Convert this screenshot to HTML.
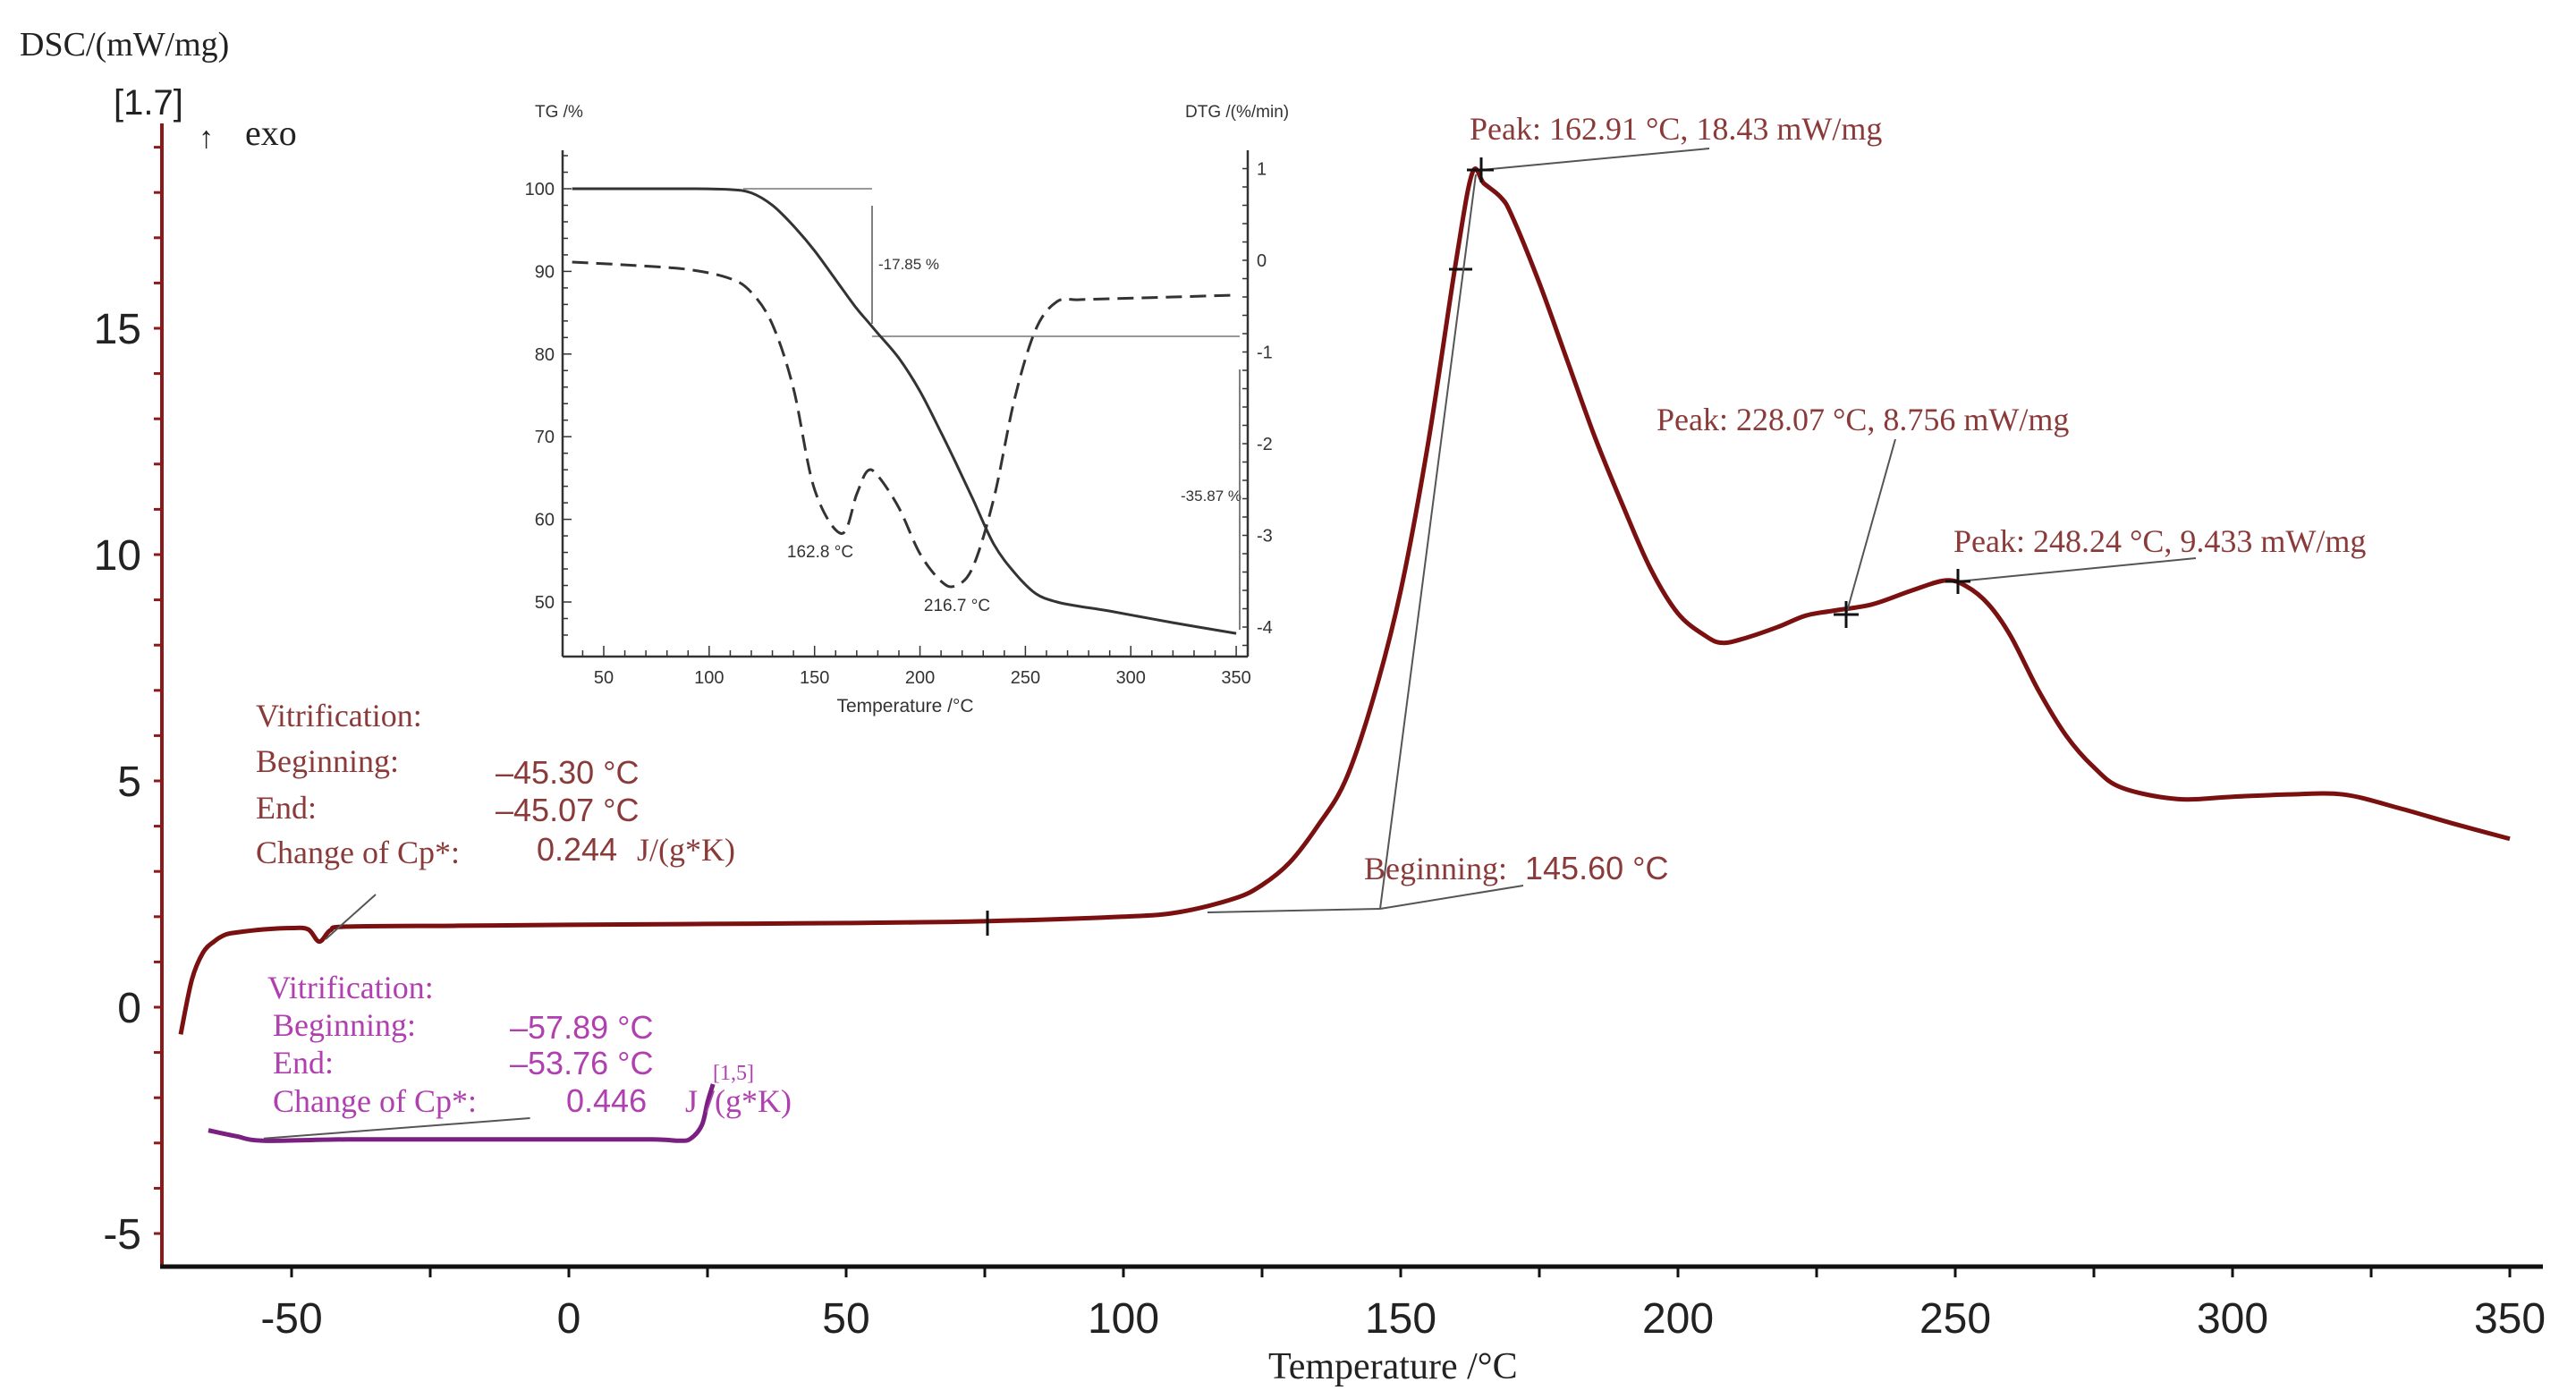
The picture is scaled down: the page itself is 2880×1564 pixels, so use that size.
<!DOCTYPE html>
<html><head><meta charset="utf-8"><style>
html,body{margin:0;padding:0;background:#fff}
svg{display:block}
.ser{font-family:"Liberation Serif",serif}
.san{font-family:"Liberation Sans",sans-serif}
</style></head><body>
<svg id="c" width="2880" height="1564" viewBox="0 0 2880 1564" xmlns="http://www.w3.org/2000/svg">
<g id="inset"></g>
<g id="main"></g>
</svg>
<script>
// ---- main DSC data ----
const dscTemps=[-70,-68,-66,-64,-62,-60,-55,-50,-47,-45,-43,-40,-20,0,25,50,75,100,110,120,125,130,135,140,145,150,155,160,162.91,165,168,170,175,180,185,190,195,200,205,208,212,218,223,228,235,242,248.24,252,256,260,265,270,275,280,290,300,310,320,330,340,350];
const dscValues=[-0.6,0.6,1.2,1.45,1.6,1.65,1.72,1.75,1.72,1.45,1.7,1.78,1.8,1.82,1.84,1.86,1.9,2.0,2.1,2.4,2.7,3.2,4.0,5.0,6.8,9.2,12.5,16.5,18.43,18.2,17.9,17.5,16.0,14.3,12.6,11.1,9.7,8.7,8.2,8.05,8.15,8.4,8.65,8.76,8.9,9.2,9.43,9.3,8.9,8.2,7.0,6.0,5.3,4.85,4.6,4.65,4.7,4.7,4.4,4.05,3.72];
const purpleTemps=[-65,-60,-55,-40,-20,0,15,20,22,24,25,26];
const purpleValues=[-2.72,-2.85,-2.95,-2.92,-2.92,-2.92,-2.92,-2.95,-2.9,-2.6,-2.1,-1.7];
const xTickLabels=[-50,0,50,100,150,200,250,300,350];
const yTickLabels=[-5,0,5,10,15];
// ---- inset data ----
const insetTemps=[35,60,90,110,120,130,140,150,162.8,170,175,180,190,200,210,216.7,225,235,245,255,265,275,290,320,350];
const tgValues=[100,100,100,99.9,99.5,98,95.5,92.5,88,85.5,84,82.5,79.5,75.5,70.5,67,62.5,57,53.5,51,50,49.5,48.9,47.5,46.2];
const dtgValues=[-0.02,-0.05,-0.1,-0.2,-0.35,-0.7,-1.4,-2.5,-2.98,-2.55,-2.3,-2.35,-2.7,-3.2,-3.5,-3.55,-3.35,-2.6,-1.5,-0.75,-0.45,-0.43,-0.42,-0.4,-0.38];
const insetXTicks=[50,100,150,200,250,300,350];
const tgTicks=[50,60,70,80,90,100];
const dtgTicks=[-4,-3,-2,-1,0,1];

const NS="http://www.w3.org/2000/svg";
const X=t=>636+6.2*t, Y=v=>1126-50.6*v;
const IX=t=>675+(t-50)*2.357, ITG=v=>211+(100-v)*9.24, IDTG=v=>291-102.5*v;
function mk(p,tag,a,txt){const e=document.createElementNS(NS,tag);for(const k in a)e.setAttribute(k,a[k]);if(txt!==undefined)e.textContent=txt;p.appendChild(e);return e;}
function smooth(pts){let d="M"+pts[0][0]+","+pts[0][1];for(let i=0;i<pts.length-1;i++){const p0=pts[Math.max(0,i-1)],p1=pts[i],p2=pts[i+1],p3=pts[Math.min(pts.length-1,i+2)];const c1=[p1[0]+(p2[0]-p0[0])/6,p1[1]+(p2[1]-p0[1])/6],c2=[p2[0]-(p3[0]-p1[0])/6,p2[1]-(p3[1]-p1[1])/6];d+=" C"+c1+" "+c2+" "+p2;}return d;}
const M=document.getElementById('main'), I=document.getElementById('inset');

// axes
let e;
e=mk(M,'line',{x1:181,y1:138,x2:181,y2:1416,stroke:'#8b1a1a','stroke-width':4});

e=mk(M,'line',{x1:179,y1:1416,x2:2843,y2:1416,stroke:'#111','stroke-width':5});

for(let v=-5;v<=20;v++){if(Y(v)<140)continue;mk(M,'line',{x1:172,y1:Y(v),x2:181,y2:Y(v),stroke:'#8b1a1a','stroke-width':3});}
for(let t=-50;t<=350;t+=25){mk(M,'line',{x1:X(t),y1:1416,x2:X(t),y2:1428,stroke:'#111','stroke-width':3});}
yTickLabels.forEach(v=>{e=mk(M,'text',{x:158,y:Y(v)+17,'text-anchor':'end','font-size':48,fill:'#222',class:'san'},String(v));
});
xTickLabels.forEach(t=>{e=mk(M,'text',{x:X(t),y:1490,'text-anchor':'middle','font-size':48,fill:'#222',class:'san'},String(t));
});

// curves
e=mk(M,'path',{d:smooth(dscTemps.map((t,i)=>[X(t),Y(dscValues[i])])),fill:'none',stroke:'#7a1010','stroke-width':5,'stroke-linejoin':'round'});

e=mk(M,'path',{d:smooth(purpleTemps.map((t,i)=>[X(t),Y(purpleValues[i])])),fill:'none',stroke:'#7a2080','stroke-width':5});


// annotation lines
const L=(a,b,c,d,col,w)=>mk(M,'line',{x1:a,y1:b,x2:c,y2:d,stroke:col||'#555','stroke-width':w||2});
L(1656,190,1911,166);L(1640,190,1670,190,'#111',3);L(1656,176,1656,204,'#111',3);
L(1620,301,1646,301,'#111',3);
L(2064,687,2119,491);L(2050,687,2078,687,'#111',3);L(2064,672,2064,702,'#111',3);
L(2189,650,2455,624);L(2175,650,2203,650,'#111',3);L(2189,636,2189,664,'#111',3);
L(1350,1020,1543,1016);L(1543,1016,1703,990);L(1543,1016,1650,195);
L(1104,1018,1104,1046,'#111',3);
L(364,1050,420,1000);
L(X(-55),Y(-2.9),X(-7),Y(-2.45));

const T=(x,y,s,fs,col,cls,name)=>{const t=mk(M,'text',{x:x,y:y,'font-size':fs,fill:col,class:cls},s);return t;};
T(22,62,'DSC/(mW/mg)',38,'#222','ser','y-axis-title');
T(127,128,'[1.7]',40,'#222','san','y-axis-unit-index');
T(222,165,'↑',34,'#222','san','exo-arrow');
T(274,162,'exo',40,'#222','ser','exo-label');
T(1418,1541,'Temperature  /°C',42,'#222','ser','x-axis-title');
const br='#8b3a3a';
T(1643,156,'Peak: 162.91 °C, 18.43  mW/mg',36,br,'ser','peak1-label');
T(1852,481,'Peak: 228.07 °C, 8.756  mW/mg',36,br,'ser','peak2-label');
T(2184,617,'Peak: 248.24 °C, 9.433  mW/mg',36,br,'ser','peak3-label');
T(1525,983,'Beginning:',36,br,'ser','onset-label');T(1705,983,'145.60 °C',36,br,'san','onset-value');
T(286,812,'Vitrification:',36,br,'ser','vitrification-title');
T(286,863,'Beginning:',36,br,'ser','vitr-beginning-label');T(554,876,'–45.30 °C',36,br,'san','vitr-beginning-value');
T(286,915,'End:',36,br,'ser','vitr-end-label');T(554,918,'–45.07 °C',36,br,'san','vitr-end-value');
T(286,965,'Change of Cp*:',36,br,'ser','vitr-cp-label');T(600,962,'0.244',36,br,'san','vitr-cp-value');T(712,962,'J/(g*K)',36,br,'ser','vitr-cp-unit');
const pu='#b040b0';
T(299,1116,'Vitrification:',36,pu,'ser','purple-vitrification-title');
T(305,1158,'Beginning:',36,pu,'ser','purple-beginning-label');T(570,1161,'–57.89 °C',36,pu,'san','purple-beginning-value');
T(305,1200,'End:',36,pu,'ser','purple-end-label');T(570,1201,'–53.76 °C',36,pu,'san','purple-end-value');
T(305,1243,'Change of Cp*:',36,pu,'ser','purple-cp-label');T(633,1243,'0.446',36,pu,'san','purple-cp-value');T(766,1243,'J /(g*K)',36,pu,'ser','purple-cp-unit');
T(797,1207,'[1,5]',24,pu,'ser','purple-curve-index');

// ---- inset ----
const IL=(a,b,c,d,col,w,extra)=>{const l=mk(I,'line',Object.assign({x1:a,y1:b,x2:c,y2:d,stroke:col||'#333','stroke-width':w||2},extra||{}));return l;};
e=IL(629,168,629,734,'#333',2.5);
e=IL(1395,168,1395,734,'#333',2.5);
e=IL(629,734,1395,734,'#333',2.5);
for(let t=40;t<=350;t+=10)IL(IX(t),734,IX(t),t%50?727:722,'#333',1.5);
for(let v=46;v<=104;v+=2)IL(629,ITG(v),v%10?635:639,ITG(v),'#333',1.5);
for(let v=-4.2;v<=1.2;v+=0.2)IL(1395,IDTG(v),1389,IDTG(v),'#333',1.5);
insetXTicks.forEach(t=>{e=mk(I,'text',{x:IX(t),y:764,'text-anchor':'middle','font-size':20,fill:'#333',class:'san'},String(t));});
tgTicks.forEach(v=>{e=mk(I,'text',{x:620,y:ITG(v)+7,'text-anchor':'end','font-size':20,fill:'#333',class:'san'},String(v));});
dtgTicks.forEach(v=>{e=mk(I,'text',{x:1405,y:IDTG(v)+7,'font-size':20,fill:'#333',class:'san'},String(v));});
const IT=(x,y,s,fs,name,anc)=>{const t=mk(I,'text',{x:x,y:y,'font-size':fs,fill:'#333',class:'san','text-anchor':anc||'start'},s);};
IT(598,131,'TG /%',19,'inset-tg-title');IT(1325,131,'DTG /(%/min)',19,'inset-dtg-title');
IT(1012,796,'Temperature /°C',21,'inset-x-title','middle');
IT(917,623,'162.8 °C',19,'inset-peak1-label','middle');IT(1070,683,'216.7 °C',19,'inset-peak2-label','middle');
IT(982,301,'-17.85 %',17,'inset-step1-label');IT(1320,560,'-35.87 %',17,'inset-step2-label');
IL(831,211,975,211,'#999',2);IL(975,376,1386,376,'#999',2);IL(975,230,975,362,'#555',1.5);IL(1386,413,1386,704,'#555',1.5);
e=mk(I,'path',{d:smooth(insetTemps.map((t,i)=>[IX(t),ITG(tgValues[i])])),fill:'none',stroke:'#333','stroke-width':3});

e=mk(I,'path',{d:smooth(insetTemps.map((t,i)=>[IX(t),IDTG(dtgValues[i])])),fill:'none',stroke:'#333','stroke-width':3,'stroke-dasharray':'18 9'});

</script>
</body></html>
